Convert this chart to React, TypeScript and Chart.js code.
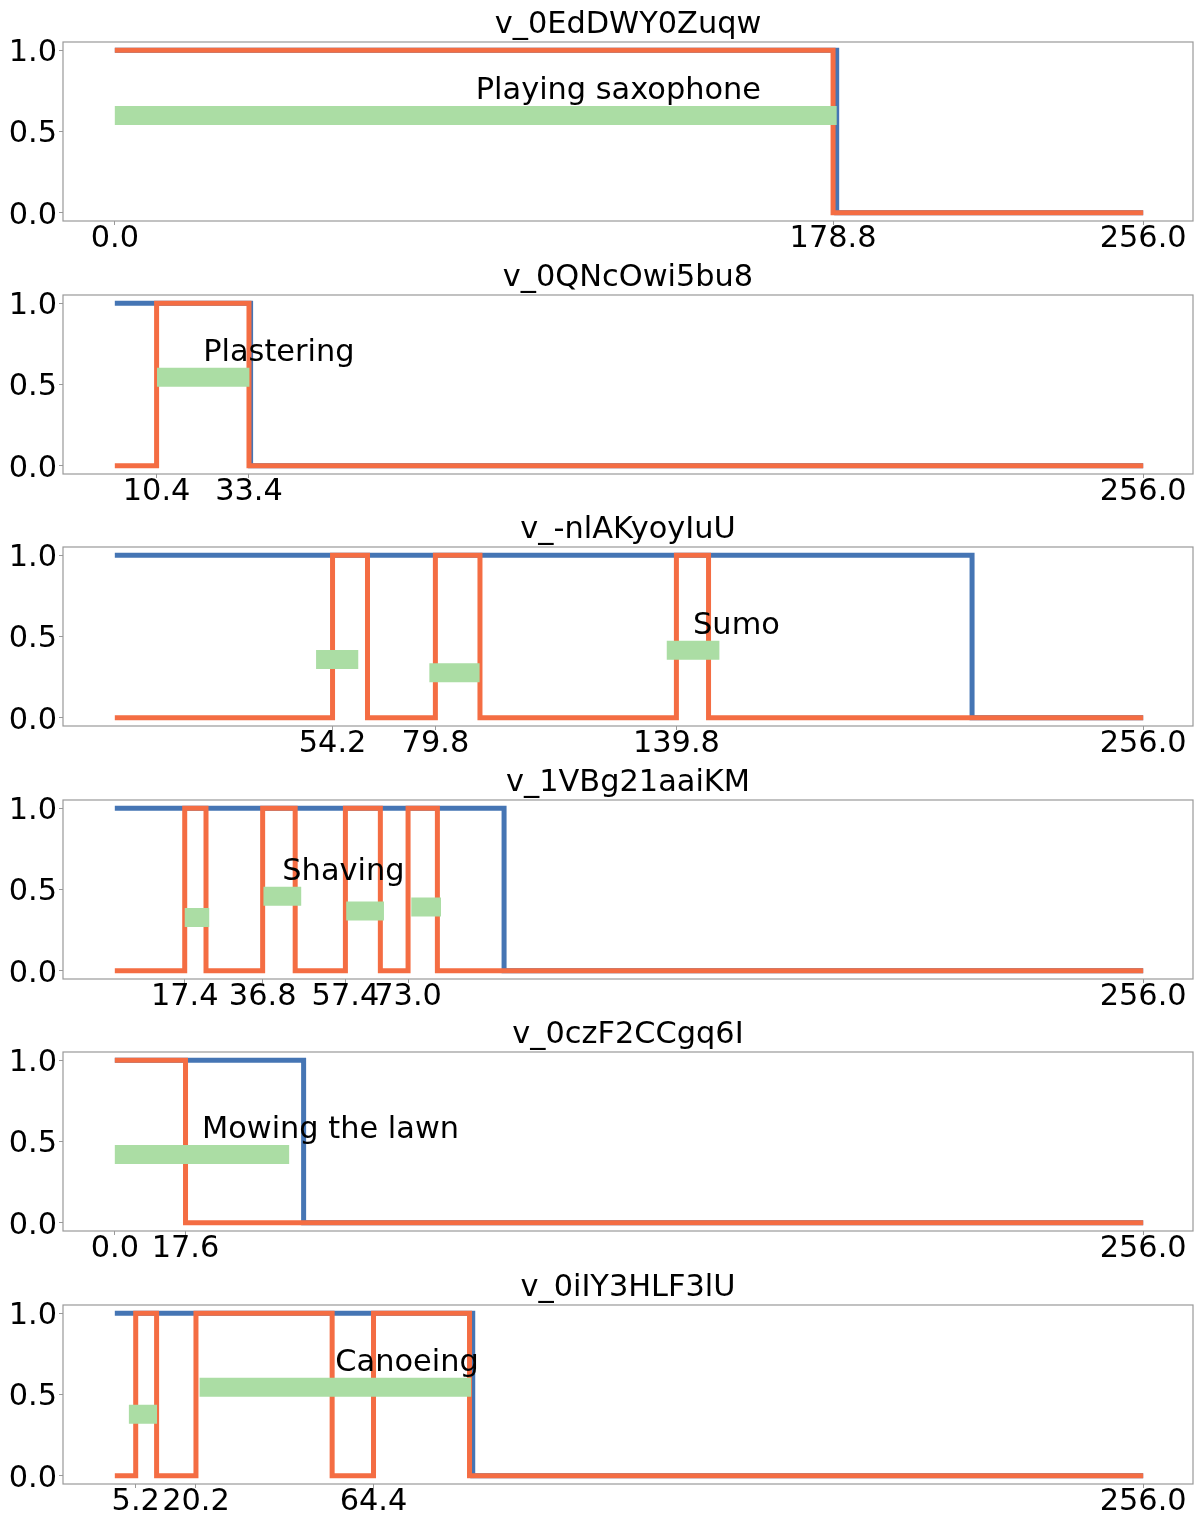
import React, { useEffect, useRef } from "react";
import { Chart, registerables } from "chart.js";

Chart.register(...registerables);

// ---------- data ----------
const TITLES = ["v_0EdDWY0Zuqw", "v_0QNcOwi5bu8", "v_-nlAKyoyIuU", "v_1VBg21aaiKM", "v_0czF2CCgq6I", "v_0iIY3HLF3lU"];
const LABELS = ["Playing saxophone", "Plastering", "Sumo", "Shaving", "Mowing the lawn", "Canoeing"];
const LABEL_SEGMENT = [0, 0, 2, 1, 0, 1];
const LABEL_OFFSET = 0.1;

const Y_TICKS = [0.0, 0.5, 1.0];
const X_MIN = -12.9;
const X_MAX = 268.4;

const X_TICKS_1 = [0.0, 178.8, 256.0];
const X_TICKS_2 = [10.4, 33.4, 256.0];
const X_TICKS_3 = [54.2, 79.8, 139.8, 256.0];
const X_TICKS_4 = [17.4, 36.8, 57.4, 73.0, 256.0];
const X_TICKS_5 = [0.0, 17.6, 256.0];
const X_TICKS_6 = [5.2, 20.2, 64.4, 256.0];

// step series: change times and the value held from that time on
const BLUE_T_1 = [0, 179.7, 256];
const BLUE_V_1 = [1, 0, 0];
const ORANGE_T_1 = [0, 178.8, 256];
const ORANGE_V_1 = [1, 0, 0];

const BLUE_T_2 = [0, 33.8, 256];
const BLUE_V_2 = [1, 0, 0];
const ORANGE_T_2 = [0, 10.4, 33.4, 256];
const ORANGE_V_2 = [0, 1, 0, 0];

const BLUE_T_3 = [0, 213.4, 256];
const BLUE_V_3 = [1, 0, 0];
const ORANGE_T_3 = [0, 54.2, 62.9, 79.8, 90.9, 139.8, 147.8, 256];
const ORANGE_V_3 = [0, 1, 0, 1, 0, 1, 0, 0];

const BLUE_T_4 = [0, 96.9, 256];
const BLUE_V_4 = [1, 0, 0];
const ORANGE_T_4 = [0, 17.4, 22.7, 36.8, 44.9, 57.4, 66.1, 73.0, 80.3, 256];
const ORANGE_V_4 = [0, 1, 0, 1, 0, 1, 0, 1, 0, 0];

const BLUE_T_5 = [0, 47.0, 256];
const BLUE_V_5 = [1, 0, 0];
const ORANGE_T_5 = [0, 17.6, 256];
const ORANGE_V_5 = [1, 0, 0];

const BLUE_T_6 = [0, 89.1, 256];
const BLUE_V_6 = [1, 0, 0];
const ORANGE_T_6 = [0, 5.2, 10.4, 20.2, 54.1, 64.4, 88.3, 256];
const ORANGE_V_6 = [0, 1, 0, 1, 0, 1, 0, 0];

// green segments
const GREEN_START_1 = [0];
const GREEN_END_1 = [179.7];
const GREEN_Y_1 = [0.598];

const GREEN_START_2 = [10.5];
const GREEN_END_2 = [33.5];
const GREEN_Y_2 = [0.545];

const GREEN_START_3 = [50.1, 78.3, 137.4];
const GREEN_END_3 = [60.6, 90.8, 150.5];
const GREEN_Y_3 = [0.359, 0.278, 0.416];

const GREEN_START_4 = [17.4, 37.0, 57.6, 73.8];
const GREEN_END_4 = [23.5, 46.4, 67.0, 81.2];
const GREEN_Y_4 = [0.328, 0.458, 0.368, 0.393];

const GREEN_START_5 = [0];
const GREEN_END_5 = [43.4];
const GREEN_Y_5 = [0.42];

const GREEN_START_6 = [3.5, 21.1];
const GREEN_END_6 = [10.5, 88.7];
const GREEN_Y_6 = [0.378, 0.545];

const PANELS = [
  { ticks: X_TICKS_1, bt: BLUE_T_1, bv: BLUE_V_1, ot: ORANGE_T_1, ov: ORANGE_V_1, gs: GREEN_START_1, ge: GREEN_END_1, gy: GREEN_Y_1 },
  { ticks: X_TICKS_2, bt: BLUE_T_2, bv: BLUE_V_2, ot: ORANGE_T_2, ov: ORANGE_V_2, gs: GREEN_START_2, ge: GREEN_END_2, gy: GREEN_Y_2 },
  { ticks: X_TICKS_3, bt: BLUE_T_3, bv: BLUE_V_3, ot: ORANGE_T_3, ov: ORANGE_V_3, gs: GREEN_START_3, ge: GREEN_END_3, gy: GREEN_Y_3 },
  { ticks: X_TICKS_4, bt: BLUE_T_4, bv: BLUE_V_4, ot: ORANGE_T_4, ov: ORANGE_V_4, gs: GREEN_START_4, ge: GREEN_END_4, gy: GREEN_Y_4 },
  { ticks: X_TICKS_5, bt: BLUE_T_5, bv: BLUE_V_5, ot: ORANGE_T_5, ov: ORANGE_V_5, gs: GREEN_START_5, ge: GREEN_END_5, gy: GREEN_Y_5 },
  { ticks: X_TICKS_6, bt: BLUE_T_6, bv: BLUE_V_6, ot: ORANGE_T_6, ov: ORANGE_V_6, gs: GREEN_START_6, ge: GREEN_END_6, gy: GREEN_Y_6 },
];

// ---------- styles ----------
const FONT = '"DejaVu Sans", sans-serif';
const FONT_SIZE = 30.4;
const BLUE = "#4575b4";
const ORANGE = "#f46d43";
const GREEN = "#abdda4";
const SPINE = "#999999";
const PANEL_STEP = 252.5;
const CANVAS_H = 253;
const W = 1194;

function Panel({ index }: { index: number }) {
  const ref = useRef<HTMLCanvasElement | null>(null);
  useEffect(() => {
    const p = PANELS[index];
    const toPts = (t: number[], v: number[]) => t.map((x, i) => ({ x, y: v[i] }));
    const greenPts: any[] = [];
    p.gs.forEach((s, i) => {
      greenPts.push({ x: s, y: p.gy[i] });
      greenPts.push({ x: p.ge[i], y: p.gy[i] });
      greenPts.push({ x: (p.ge[i] + (p.gs[i + 1] ?? p.ge[i])) / 2, y: null });
    });
    const li = LABEL_SEGMENT[index];
    const labelPlugin = {
      id: "labelAndBox",
      afterDatasetsDraw(chart: any) {
        const { ctx, chartArea, scales } = chart;
        ctx.save();
        ctx.font = `${FONT_SIZE}px ${FONT}`;
        ctx.fillStyle = "#000";
        ctx.textAlign = "left";
        ctx.textBaseline = "alphabetic";
        const lx = scales.x.getPixelForValue((p.gs[li] + p.ge[li]) / 2);
        const ly = scales.y.getPixelForValue(p.gy[li] + LABEL_OFFSET);
        ctx.fillText(LABELS[index], lx, ly);
        ctx.strokeStyle = SPINE;
        ctx.lineWidth = 1.2;
        ctx.strokeRect(chartArea.left, chartArea.top, chartArea.right - chartArea.left, chartArea.bottom - chartArea.top);
        ctx.restore();
      },
    };
    const chart = new Chart(ref.current!, {
      type: "line",
      data: {
        datasets: [
          { data: greenPts, borderColor: GREEN, borderWidth: 19, borderCapStyle: "butt", pointRadius: 0, spanGaps: false, order: 0 } as any,
          { data: toPts(p.ot, p.ov), borderColor: ORANGE, borderWidth: 5, stepped: true, pointRadius: 0, order: 1, borderJoinStyle: "miter" } as any,
          { data: toPts(p.bt, p.bv), borderColor: BLUE, borderWidth: 5, stepped: true, pointRadius: 0, order: 2, borderJoinStyle: "miter" } as any,
        ],
      },
      options: {
        animation: false,
        responsive: false,
        events: [],
        layout: { padding: { left: 0, right: 1, top: 0, bottom: 0 } },
        plugins: {
          legend: { display: false },
          tooltip: { enabled: false },
          title: {
            display: true,
            text: TITLES[index],
            fullSize: false,
            color: "#000",
            font: { family: FONT, size: FONT_SIZE, weight: "normal", lineHeight: 1 },
            padding: { top: 10, bottom: 1.6 },
          },
        },
        scales: {
          x: {
            type: "linear",
            min: X_MIN,
            max: X_MAX,
            afterBuildTicks: (scale: any) => {
              scale.ticks = p.ticks.map((v) => ({ value: v }));
            },
            afterFit: (scale: any) => {
              scale.height = CANVAS_H - 221;
            },
            grid: { display: true, drawOnChartArea: false, drawTicks: true, tickLength: 4, color: SPINE },
            border: { display: false },
            ticks: {
              autoSkip: false,
              maxRotation: 0,
              minRotation: 0,
              padding: -1,
              color: "#000",
              font: { family: FONT, size: FONT_SIZE, lineHeight: 1 },
              callback: (v: any) => Number(v).toFixed(1),
            },
          },
          y: {
            type: "linear",
            min: -0.05,
            max: 1.05,
            afterBuildTicks: (scale: any) => {
              scale.ticks = Y_TICKS.map((v) => ({ value: v }));
            },
            afterFit: (scale: any) => {
              scale.width = 63;
            },
            grid: { display: true, drawOnChartArea: false, drawTicks: true, tickLength: 4, color: SPINE },
            border: { display: false },
            ticks: {
              padding: 2,
              labelOffset: 3,
              color: "#000",
              font: { family: FONT, size: FONT_SIZE, lineHeight: 1 },
              callback: (v: any) => Number(v).toFixed(1),
            },
          },
        },
      } as any,
      plugins: [labelPlugin],
    });
    return () => chart.destroy();
  }, [index]);
  return (
    <canvas
      ref={ref}
      width={W}
      height={CANVAS_H}
      style={{ position: "absolute", left: 0, top: Math.round(index * PANEL_STEP), width: W, height: CANVAS_H }}
    />
  );
}

export default function App() {
  return (
    <div style={{ position: "absolute", left: 0, top: 0, width: W, height: 1515, background: "#fff", overflow: "hidden" }}>
      {PANELS.map((_, i) => (
        <Panel key={i} index={i} />
      ))}
    </div>
  );
}
